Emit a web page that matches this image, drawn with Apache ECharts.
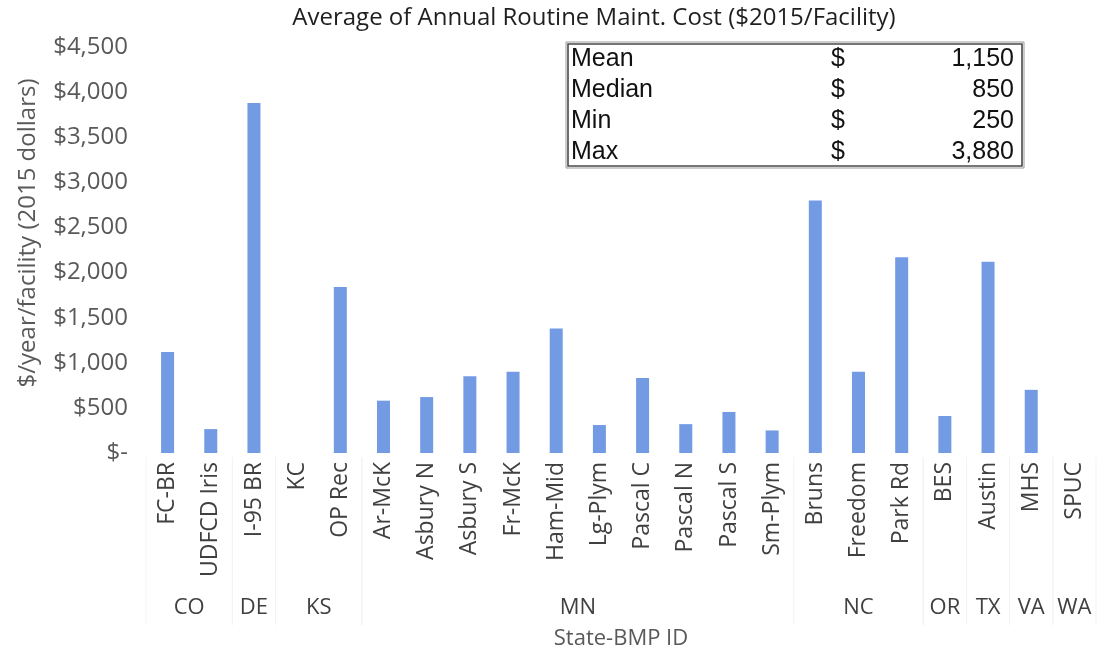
<!DOCTYPE html>
<html>
<head>
<meta charset="utf-8">
<script src="https://cdn.jsdelivr.net/npm/echarts@6/dist/echarts.min.js"></script>
<style>
  html, body { margin: 0; padding: 0; background: #fff; }
  #chart { width: 1099px; height: 652px; }
</style>
</head>
<body>
<div id="chart"></div>
<script>
// BMP facilities along the x axis
const facilities = ['FC-BR', 'UDFCD Iris', 'I-95 BR', 'KC', 'OP Rec', 'Ar-McK', 'Asbury N', 'Asbury S',
  'Fr-McK', 'Ham-Mid', 'Lg-Plym', 'Pascal C', 'Pascal N', 'Pascal S', 'Sm-Plym', 'Bruns', 'Freedom',
  'Park Rd', 'BES', 'Austin', 'MHS', 'SPUC'];
// Average annual routine maintenance cost, $2015 per facility
const annualCost = [1120, 265, 3880, 0, 1840, 580, 620, 850, 900, 1380, 310, 830, 320, 455, 250, 2800,
  900, 2170, 410, 2120, 700, 0];
// State grouping: label and index range [first, last] of its facilities
const states = ['CO', 'DE', 'KS', 'MN', 'NC', 'OR', 'TX', 'VA', 'WA'];
const stateFirst = [0, 2, 3, 5, 15, 18, 19, 20, 21];
const stateLast = [1, 2, 4, 14, 17, 18, 19, 20, 21];
// Summary table
const statNames = ['Mean', 'Median', 'Min', 'Max'];
const statValues = ['1,150', '850', '250', '3,880'];
// y axis ticks
const yMin = 0, yMax = 4500, yStep = 500;

const labelFont = '"Open Sans", Lato, sans-serif';
const chart = echarts.init(document.getElementById('chart'), null, { renderer: 'canvas' });

const fmtDollar = v => v === 0 ? '$-' : '$' + v.toLocaleString('en-US');

chart.setOption({
  animation: false,
  backgroundColor: '#ffffff',
  title: {
    text: 'Average of Annual Routine Maint. Cost ($2015/Facility)',
    left: 589, top: 1, textAlign: 'center',
    textStyle: { fontFamily: labelFont, fontSize: 24, fontWeight: 'normal', color: '#1f1f1f' }
  },
  grid: { left: 146, right: 3, top: 47, bottom: 199, containLabel: false, outerBoundsMode: 'none' },
  xAxis: {
    type: 'category',
    data: facilities,
    axisLine: { show: false },
    axisTick: { show: false },
    axisLabel: {
      rotate: 90, interval: 0, margin: 9,
      fontFamily: labelFont, fontSize: 23, color: '#404040'
    },
    name: 'State-BMP ID',
    nameLocation: 'middle',
    nameGap: 175,
    nameTextStyle: { fontFamily: labelFont, fontSize: 22, color: '#595959' }
  },
  yAxis: {
    type: 'value',
    min: yMin, max: yMax, interval: yStep,
    axisLine: { show: false },
    axisTick: { show: false },
    splitLine: { show: false },
    axisLabel: {
      formatter: fmtDollar, margin: 18,
      fontFamily: labelFont, fontSize: 24, color: '#595959'
    },
    name: '$/year/facility (2015 dollars)',
    nameLocation: 'middle',
    nameGap: 106,
    nameTextStyle: { fontFamily: labelFont, fontSize: 24, color: '#595959', padding: [0, 0, 0, 34] }
  },
  series: [{
    type: 'bar',
    data: annualCost,
    barWidth: 13,
    itemStyle: { color: '#739be3' }
  }]
});

// State labels, separators and the summary table, placed from the axis scale
function drawExtras() {
  const px = i => chart.convertToPixel({ xAxisIndex: 0 }, facilities[i]);
  const y0 = chart.convertToPixel({ yAxisIndex: 0 }, 0);
  const half = (px(1) - px(0)) / 2;
  const elements = [];

  // faint separators between state groups
  const edges = new Set();
  stateFirst.forEach(f => edges.add(px(f) - half));
  stateLast.forEach(l => edges.add(px(l) + half));
  edges.forEach(x => {
    elements.push({
      type: 'line', silent: true,
      shape: { x1: x, y1: y0 + 4, x2: x, y2: y0 + 172 },
      style: { stroke: '#f3f3f3', lineWidth: 1 }
    });
  });

  states.forEach((s, k) => {
    const cx = (px(stateFirst[k]) + px(stateLast[k])) / 2;
    elements.push({
      type: 'text', silent: true,
      x: cx, y: y0 + 155,
      style: {
        text: s, fill: '#404040', font: '22px ' + labelFont,
        textAlign: 'center', textVerticalAlign: 'middle'
      }
    });
  });

  // summary table
  const tx = 567, ty = 43, tw = 456, th = 124;
  elements.push({
    type: 'rect', silent: true,
    shape: { x: tx - 1, y: ty - 1, width: tw + 2, height: th + 2 },
    style: { fill: '#ffffff', stroke: '#9a9a9a', lineWidth: 1 }
  });
  elements.push({
    type: 'rect', silent: true,
    shape: { x: tx + 1, y: ty + 1, width: tw - 2, height: th - 2 },
    style: { fill: null, stroke: '#4a4a4a', lineWidth: 1.6 }
  });
  const rowH = 32, tableFont = '25px "Liberation Sans", Arial, sans-serif';
  statNames.forEach((n, i) => {
    const cy = ty + 16 + i * rowH - i * 1;
    elements.push({ type: 'text', silent: true, x: tx + 4, y: cy,
      style: { text: n, fill: '#111', font: tableFont, textAlign: 'left', textVerticalAlign: 'middle' } });
    elements.push({ type: 'text', silent: true, x: 838, y: cy,
      style: { text: '$', fill: '#111', font: tableFont, textAlign: 'center', textVerticalAlign: 'middle' } });
    elements.push({ type: 'text', silent: true, x: 1014, y: cy,
      style: { text: statValues[i], fill: '#111', font: tableFont, textAlign: 'right', textVerticalAlign: 'middle' } });
  });

  chart.setOption({ graphic: { elements: elements } });
}
drawExtras();
</script>
</body>
</html>
